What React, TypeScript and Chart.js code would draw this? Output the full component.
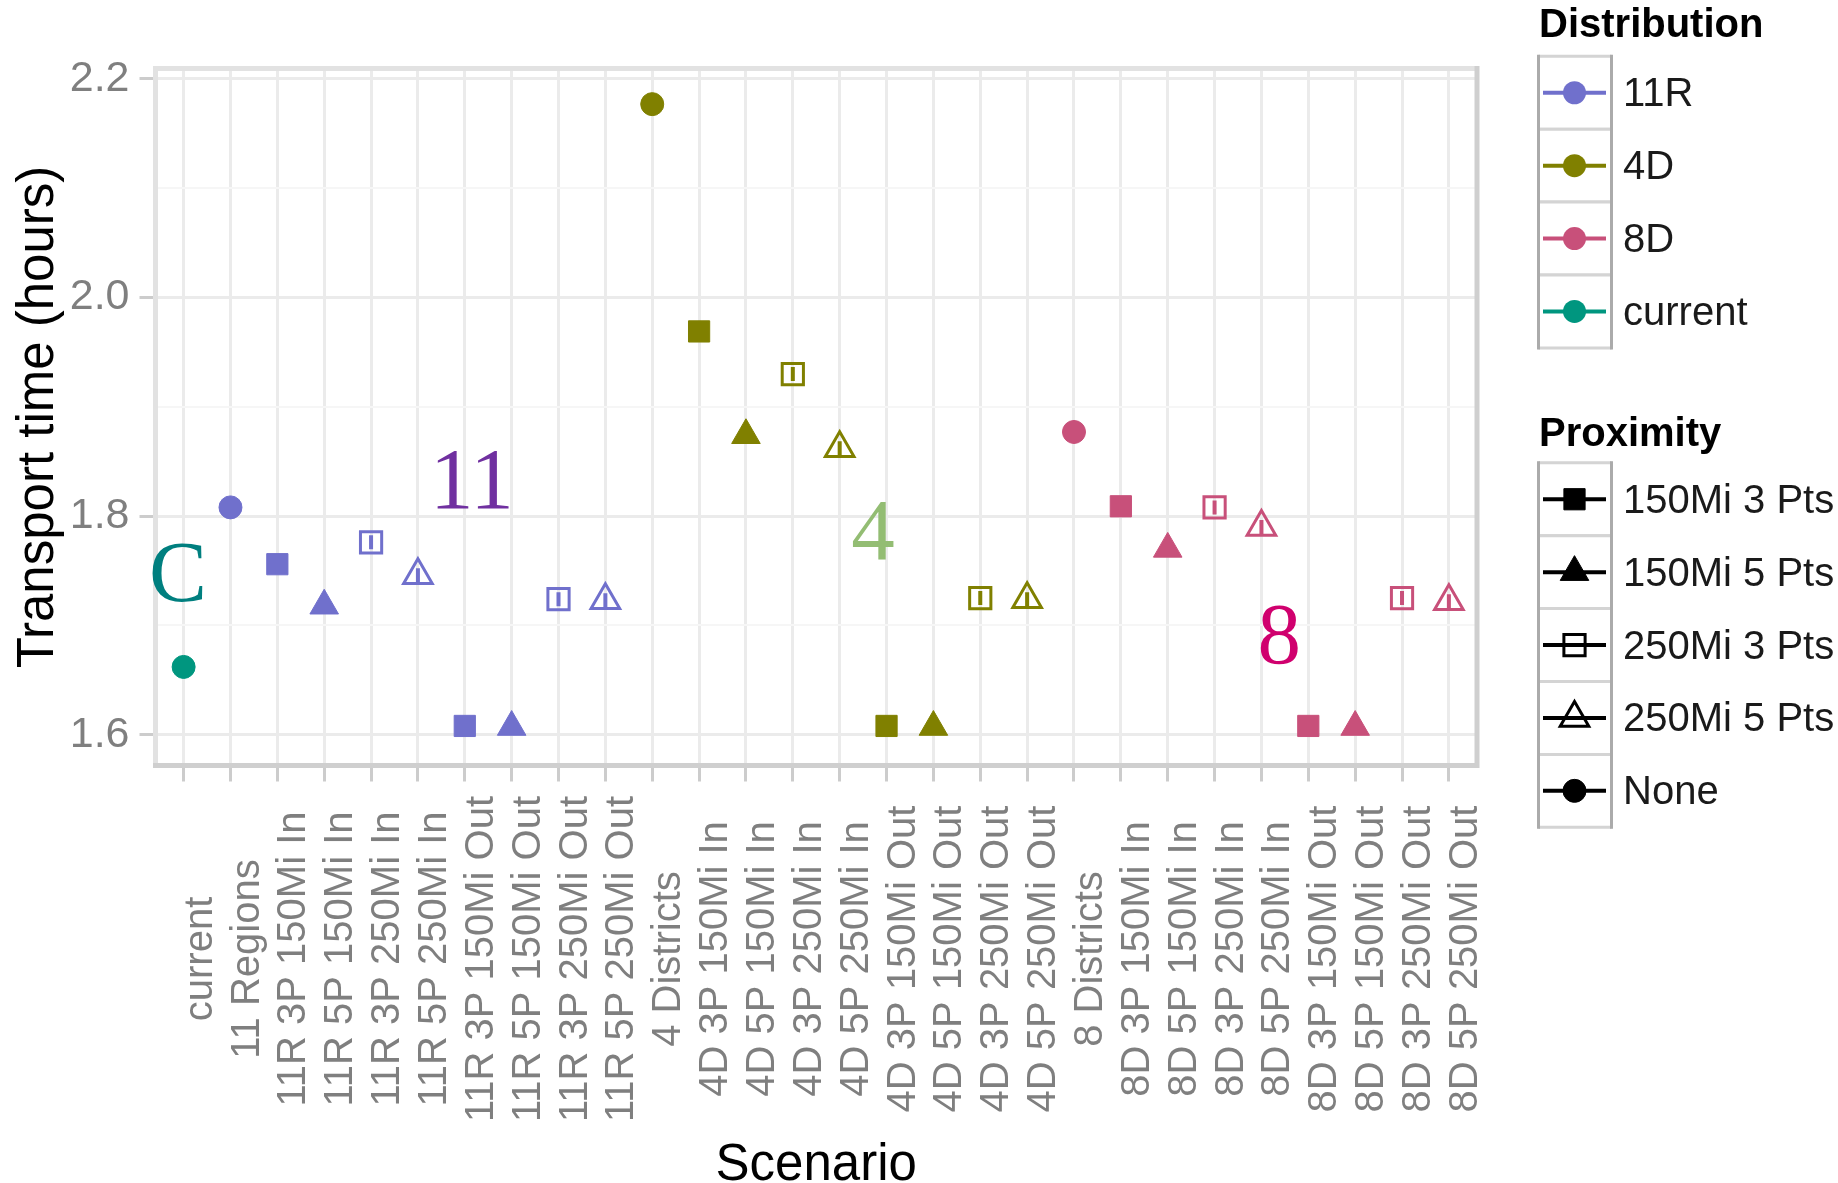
import React, { useEffect, useRef } from "react";
import { Chart, registerables } from "chart.js";

Chart.register(...registerables);

// ---------- data ----------
const categories = [
  "current",
  "11 Regions",
  "11R 3P 150Mi In",
  "11R 5P 150Mi In",
  "11R 3P 250Mi In",
  "11R 5P 250Mi In",
  "11R 3P 150Mi Out",
  "11R 5P 150Mi Out",
  "11R 3P 250Mi Out",
  "11R 5P 250Mi Out",
  "4 Districts",
  "4D 3P 150Mi In",
  "4D 5P 150Mi In",
  "4D 3P 250Mi In",
  "4D 5P 250Mi In",
  "4D 3P 150Mi Out",
  "4D 5P 150Mi Out",
  "4D 3P 250Mi Out",
  "4D 5P 250Mi Out",
  "8 Districts",
  "8D 3P 150Mi In",
  "8D 5P 150Mi In",
  "8D 3P 250Mi In",
  "8D 5P 250Mi In",
  "8D 3P 150Mi Out",
  "8D 5P 150Mi Out",
  "8D 3P 250Mi Out",
  "8D 5P 250Mi Out",
];

const distribution = [
  "current",
  "11R", "11R", "11R", "11R", "11R", "11R", "11R", "11R", "11R",
  "4D", "4D", "4D", "4D", "4D", "4D", "4D", "4D", "4D",
  "8D", "8D", "8D", "8D", "8D", "8D", "8D", "8D", "8D",
];

const proximity = [
  "None",
  "None", "150Mi 3 Pts", "150Mi 5 Pts", "250Mi 3 Pts", "250Mi 5 Pts", "150Mi 3 Pts", "150Mi 5 Pts", "250Mi 3 Pts", "250Mi 5 Pts",
  "None", "150Mi 3 Pts", "150Mi 5 Pts", "250Mi 3 Pts", "250Mi 5 Pts", "150Mi 3 Pts", "150Mi 5 Pts", "250Mi 3 Pts", "250Mi 5 Pts",
  "None", "150Mi 3 Pts", "150Mi 5 Pts", "250Mi 3 Pts", "250Mi 5 Pts", "150Mi 3 Pts", "150Mi 5 Pts", "250Mi 3 Pts", "250Mi 5 Pts",
];

const transportTime = [
  1.662,
  1.808, 1.756, 1.718, 1.776, 1.746, 1.608, 1.607, 1.724, 1.723,
  2.177, 1.969, 1.874, 1.930, 1.862, 1.608, 1.607, 1.725, 1.724,
  1.877, 1.809, 1.770, 1.808, 1.790, 1.608, 1.607, 1.725, 1.722,
];

const yTickValues = [1.6, 1.7, 1.8, 1.9, 2.0, 2.1, 2.2];
const yMajorTicks = [1.6, 1.8, 2.0, 2.2];

const distLegend = ["11R", "4D", "8D", "current"];
const distColors = ["#7070cc", "#808000", "#c8507a", "#00967f"];
const proxLegend = ["150Mi 3 Pts", "150Mi 5 Pts", "250Mi 3 Pts", "250Mi 5 Pts", "None"];

const annotationTexts = ["C", "11", "4", "8"];
const annotationX = [-0.12, 6.15, 14.71, 23.38];
const annotationY = [1.7435, 1.8285, 1.7815, 1.6865];
const annotationColors = ["#007f7f", "#7030a0", "#93bd73", "#d0006e"];

const xTitle = "Scenario";
const yTitle = "Transport time (hours)";

// ---------- helpers ----------
const SANS = "'Liberation Sans', Arial, sans-serif";
const SERIF = "'Liberation Serif', 'Times New Roman', serif";

const styleFor = (p: string) =>
  p.indexOf("3 Pts") >= 0 ? "rect" : p.indexOf("5 Pts") >= 0 ? "triangle" : "circle";
const isOpen = (p: string) => p.indexOf("250Mi") === 0;
const radiusFor = (s: string) => (s === "rect" ? 15 : s === "triangle" ? 16.5 : 11.5);
const colorOf = (d: string) => distColors[distLegend.indexOf(d)];

function drawShape(
  ctx: CanvasRenderingContext2D,
  style: string,
  x: number,
  y: number,
  r: number,
  fill: string | null,
  stroke: string | null,
  lw: number
) {
  ctx.beginPath();
  if (style === "circle") {
    ctx.arc(x, y, r, 0, Math.PI * 2);
  } else if (style === "rect") {
    const h = r * Math.SQRT1_2;
    ctx.rect(x - h, y - h, 2 * h, 2 * h);
  } else {
    const a = (2 * Math.PI) / 3;
    ctx.moveTo(x, y - r);
    ctx.lineTo(x + Math.sin(a) * r, y - Math.cos(a) * r);
    ctx.lineTo(x + Math.sin(2 * a) * r, y - Math.cos(2 * a) * r);
    ctx.closePath();
  }
  if (fill) {
    ctx.fillStyle = fill;
    ctx.fill();
  }
  if (stroke) {
    ctx.strokeStyle = stroke;
    ctx.lineWidth = lw;
    ctx.stroke();
  }
}

export default function App() {
  const ref = useRef<HTMLCanvasElement>(null);

  useEffect(() => {
    const canvas = ref.current;
    if (!canvas) return;

    const points = transportTime.map((v, i) => ({ x: i, y: v }));
    const openIdx = proximity.map((p, i) => (isOpen(p) ? i : -1)).filter((i) => i >= 0);
    const openPoints = openIdx.map((i) => ({ x: i, y: transportTime[i] }));

    const idx = (c: any) => (typeof c.dataIndex === "number" ? c.dataIndex : 0);

    const overlay = {
      id: "overlay",
      afterDatasetsDraw(chart: any) {
        const { ctx, chartArea: a } = chart;
        ctx.save();
        ctx.lineWidth = 5;
        ctx.strokeStyle = "#e2e2e2";
        ctx.beginPath();
        ctx.moveTo(a.left, a.bottom);
        ctx.lineTo(a.left, a.top);
        ctx.lineTo(a.right, a.top);
        ctx.stroke();
        ctx.strokeStyle = "#cfcfcf";
        ctx.beginPath();
        ctx.moveTo(a.right, a.top - 2.5);
        ctx.lineTo(a.right, a.bottom);
        ctx.lineTo(a.left - 2.5, a.bottom);
        ctx.stroke();
        ctx.restore();
      },
      afterDraw(chart: any) {
        const { ctx, chartArea: a } = chart;
        const xs = chart.scales.x;
        const ys = chart.scales.y;
        ctx.save();

        // x tick labels, rotated and centred
        ctx.font = `40px ${SANS}`;
        ctx.fillStyle = "#7f7f7f";
        ctx.textAlign = "center";
        ctx.textBaseline = "middle";
        categories.forEach((lab, i) => {
          const px = xs.getPixelForValue(i);
          ctx.save();
          ctx.translate(px + 17, 959);
          ctx.rotate(-Math.PI / 2);
          ctx.fillText(lab, 0, 0);
          ctx.restore();
        });

        // axis titles
        ctx.fillStyle = "#000000";
        ctx.font = `51px ${SANS}`;
        ctx.fillText(xTitle, (a.left + a.right) / 2, 1166);
        ctx.save();
        ctx.translate(39, (a.top + a.bottom) / 2);
        ctx.rotate(-Math.PI / 2);
        ctx.fillText(yTitle, 0, 0);
        ctx.restore();

        // annotations
        ctx.font = `87px ${SERIF}`;
        annotationTexts.forEach((t, i) => {
          ctx.fillStyle = annotationColors[i];
          ctx.fillText(t, xs.getPixelForValue(annotationX[i]), ys.getPixelForValue(annotationY[i]));
        });

        // legends
        const keyL = 1538.5;
        const keyR = 1611.5;
        const keyCx = 1574.5;
        const rowH = 72.9;
        const labelX = 1623;

        const drawKeyBoxes = (top: number, n: number) => {
          ctx.lineWidth = 3;
          for (let k = 0; k < n; k++) {
            const y0 = top + k * rowH;
            ctx.fillStyle = "#ffffff";
            ctx.fillRect(keyL, y0, keyR - keyL, rowH);
            ctx.strokeStyle = "#d4d4d4";
            ctx.beginPath();
            ctx.moveTo(keyL, y0);
            ctx.lineTo(keyR, y0);
            ctx.moveTo(keyL, y0 + rowH);
            ctx.lineTo(keyR, y0 + rowH);
            ctx.stroke();
          }
          ctx.strokeStyle = "#ababab";
          ctx.beginPath();
          ctx.moveTo(keyL, top - 1.5);
          ctx.lineTo(keyL, top + n * rowH + 1.5);
          ctx.moveTo(keyR, top - 1.5);
          ctx.lineTo(keyR, top + n * rowH + 1.5);
          ctx.stroke();
        };

        ctx.textAlign = "left";
        ctx.textBaseline = "middle";
        ctx.fillStyle = "#000000";
        ctx.font = `bold 40px ${SANS}`;
        ctx.fillText("Distribution", 1539, 26);

        const distTop = 56.3;
        drawKeyBoxes(distTop, distLegend.length);
        distLegend.forEach((d, k) => {
          const cy = distTop + k * rowH + rowH / 2;
          ctx.strokeStyle = distColors[k];
          ctx.lineWidth = 4;
          ctx.beginPath();
          ctx.moveTo(1543, cy);
          ctx.lineTo(1606, cy);
          ctx.stroke();
          drawShape(ctx, "circle", keyCx, cy, 11.5, distColors[k], null, 0);
          ctx.fillStyle = "#1a1a1a";
          ctx.font = `40px ${SANS}`;
          ctx.fillText(d, labelX, cy + 2.5);
        });

        ctx.fillStyle = "#000000";
        ctx.font = `bold 40px ${SANS}`;
        ctx.fillText("Proximity", 1539, 434.5);

        const proxTop = 462.8;
        drawKeyBoxes(proxTop, proxLegend.length);
        proxLegend.forEach((p, k) => {
          const cy = proxTop + k * rowH + rowH / 2;
          ctx.strokeStyle = "#000000";
          ctx.lineWidth = 4;
          ctx.beginPath();
          ctx.moveTo(1543, cy);
          ctx.lineTo(1606, cy);
          ctx.stroke();
          const s = styleFor(p);
          if (isOpen(p)) drawShape(ctx, s, keyCx, cy, radiusFor(s), null, "#000000", 3);
          else drawShape(ctx, s, keyCx, cy, radiusFor(s), "#000000", "#000000", 1);
          ctx.fillStyle = "#1a1a1a";
          ctx.font = `40px ${SANS}`;
          ctx.fillText(p, labelX, cy + 2.5);
        });

        ctx.restore();
      },
    };

    const chart = new Chart(canvas, {
      type: "scatter",
      data: {
        datasets: [
          {
            data: points,
            pointStyle: (c: any) => styleFor(proximity[idx(c)]) as any,
            pointRadius: (c: any) => radiusFor(styleFor(proximity[idx(c)])),
            pointHoverRadius: (c: any) => radiusFor(styleFor(proximity[idx(c)])),
            pointBackgroundColor: (c: any) =>
              isOpen(proximity[idx(c)]) ? "rgba(0,0,0,0)" : colorOf(distribution[idx(c)]),
            pointBorderColor: (c: any) => colorOf(distribution[idx(c)]),
            pointBorderWidth: (c: any) => (isOpen(proximity[idx(c)]) ? 3 : 1),
            pointHoverBorderWidth: (c: any) => (isOpen(proximity[idx(c)]) ? 3 : 1),
          } as any,
          {
            data: openPoints,
            pointStyle: "line",
            pointRotation: 90,
            pointRadius: 7,
            pointHoverRadius: 7,
            pointBorderWidth: 4,
            pointHoverBorderWidth: 4,
            pointBorderColor: (c: any) => colorOf(distribution[openIdx[idx(c)]]),
          } as any,
        ],
      },
      options: {
        responsive: false,
        animation: false,
        events: [],
        layout: { padding: { top: 68.5, right: 361, left: 0, bottom: 0 } },
        plugins: {
          legend: { display: false },
          tooltip: { enabled: false },
        },
        scales: {
          x: {
            type: "linear",
            min: -0.6,
            max: 27.6,
            afterBuildTicks: (s: any) => {
              s.ticks = categories.map((_, i) => ({ value: i }));
            },
            afterFit: (s: any) => {
              s.height = 417.5;
            },
            ticks: { display: false },
            grid: {
              color: "#ebebeb",
              lineWidth: 3,
              tickColor: "#cccccc",
              tickWidth: 3,
              tickLength: 16,
              drawTicks: true,
            },
            border: { display: false },
          },
          y: {
            type: "linear",
            min: 1.5718,
            max: 2.2096,
            afterBuildTicks: (s: any) => {
              s.ticks = yTickValues.map((v) => ({ value: v }));
            },
            afterFit: (s: any) => {
              s.width = 155.5;
            },
            ticks: {
              font: { family: SANS, size: 43 },
              color: "#7f7f7f",
              padding: 10,
              callback: (v: any) =>
                yMajorTicks.some((m) => Math.abs(m - Number(v)) < 1e-6) ? Number(v).toFixed(1) : "",
            },
            grid: {
              color: (c: any) =>
                yMajorTicks.some((m) => Math.abs(m - c.tick.value) < 1e-6) ? "#ebebeb" : "#f6f6f6",
              lineWidth: (c: any) =>
                yMajorTicks.some((m) => Math.abs(m - c.tick.value) < 1e-6) ? 3 : 2,
              tickColor: (c: any) =>
                yMajorTicks.some((m) => Math.abs(m - c.tick.value) < 1e-6) ? "#cccccc" : "rgba(0,0,0,0)",
              tickWidth: 3,
              tickLength: 16,
              drawTicks: true,
            },
            border: { display: false },
          },
        },
      } as any,
      plugins: [overlay],
    });

    return () => {
      chart.destroy();
    };
  }, []);

  return (
    <div style={{ position: "absolute", left: 0, top: 0, width: 1838, height: 1183, background: "#ffffff" }}>
      <canvas ref={ref} width={1838} height={1183} style={{ width: 1838, height: 1183, display: "block" }} />
    </div>
  );
}
